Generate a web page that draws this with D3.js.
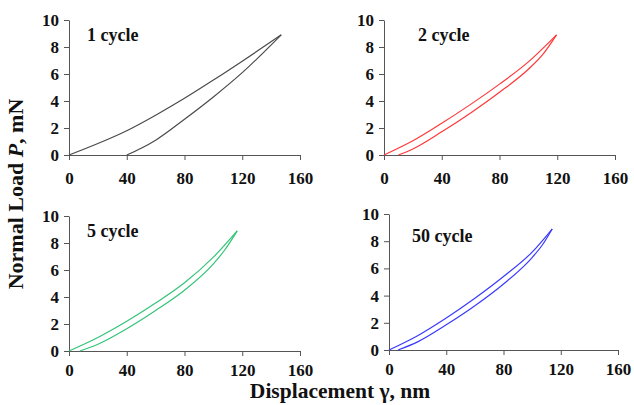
<!DOCTYPE html>
<html>
<head>
<meta charset="utf-8">
<script src="https://cdn.jsdelivr.net/npm/d3@7"></script>
<style>
  body { margin: 0; background: #fff; }
  svg { display: block; }
</style>
</head>
<body>
<div class="chart"></div>
<script>
const width = 634
const height = 405

// values: [displacement nm, load mN]
const cycleNames = ["1 cycle", "2 cycle", "5 cycle", "50 cycle"]
const cycleColors = ["#4a4a4a", "#ff3838", "#33c477", "#3a3aff"]

const load1 = [[0, 0], [20, 0.85], [40, 1.8], [60, 2.95], [80, 4.2], [100, 5.55], [120, 6.95], [147, 8.9]]
const unload1 = [[147, 8.9], [120, 6.1], [100, 4.3], [80, 2.65], [60, 1.1], [50, 0.5], [40, 0]]

const load2 = [[0, 0], [20, 1.05], [40, 2.35], [60, 3.75], [80, 5.25], [100, 6.9], [119.5, 8.9]]
const unload2 = [[119.5, 8.9], [110, 7.45], [100, 6.35], [80, 4.65], [60, 3.12], [40, 1.72], [20, 0.45], [10, 0]]

const load5 = [[0, 0], [20, 1.0], [40, 2.2], [60, 3.55], [80, 5.05], [100, 6.95], [116.5, 8.9]]
const unload5 = [[116.5, 8.9], [108, 7.5], [100, 6.45], [80, 4.5], [60, 3.0], [40, 1.65], [20, 0.5], [7.5, 0]]

const load50 = [[0, 0], [20, 1.05], [40, 2.35], [60, 3.8], [80, 5.4], [100, 7.2], [114, 8.9]]
const unload50 = [[114, 8.9], [107, 7.7], [100, 6.8], [80, 4.85], [60, 3.25], [40, 1.85], [20, 0.6], [6.3, 0]]

const loadData = [load1, load2, load5, load50]
const unloadData = [unload1, unload2, unload5, unload50]

const xTicks = [0, 40, 80, 120, 160]
const yTicks = [0, 2, 4, 6, 8, 10]

// panel frames in pixels
const panels = [
  {x0: 69, x1: 300, top: 20, bottom: 155, labX: 87, labY: 41, tickGap: 12},
  {x0: 384, x1: 615, top: 20, bottom: 155, labX: 418, labY: 41, tickGap: 12},
  {x0: 69, x1: 300, top: 216, bottom: 351, labX: 87, labY: 237, tickGap: 8},
  {x0: 389, x1: 618, top: 214, bottom: 350, labX: 412, labY: 242, tickGap: 8}
]

const svg = d3.create("svg")
  .attr("width", width)
  .attr("height", height)
  .attr("viewBox", [0, 0, width, height])

panels.forEach((p, i) => {
  const x = d3.scaleLinear().domain([0, 160]).range([p.x0, p.x1])
  const y = d3.scaleLinear().domain([0, 10]).range([p.bottom, p.top])

  const g = svg.append("g")

  const xAxis = g.append("g")
    .attr("transform", `translate(0,${p.bottom})`)
    .call(d3.axisBottom(x).tickValues(xTicks).tickSize(5).tickPadding(p.tickGap).tickSizeOuter(0))
  const yAxis = g.append("g")
    .attr("transform", `translate(${p.x0},0)`)
    .call(d3.axisLeft(y).tickValues(yTicks).tickSize(5).tickPadding(5).tickSizeOuter(0))

  for (const ax of [xAxis, yAxis]) {
    ax.selectAll("path, line").attr("stroke", "#555")
    ax.selectAll("text")
      .style("font", "bold 17px 'Liberation Serif', 'Times New Roman', serif")
      .attr("fill", "#111")
  }

  const line = d3.line()
    .x(d => x(d[0]))
    .y(d => y(d[1]))
    .curve(d3.curveMonotoneX)

  g.append("path")
    .attr("d", line(loadData[i]))
    .attr("fill", "none")
    .attr("stroke", cycleColors[i])
    .attr("stroke-width", 1.2)

  g.append("path")
    .attr("d", line(unloadData[i].slice().reverse()))
    .attr("fill", "none")
    .attr("stroke", cycleColors[i])
    .attr("stroke-width", 1.2)

  g.append("text")
    .attr("x", p.labX)
    .attr("y", p.labY)
    .style("font", "bold 18px 'Liberation Serif', 'Times New Roman', serif")
    .attr("fill", "#111")
    .text(cycleNames[i])
})

// axis titles
const yTitle = svg.append("text")
  .attr("transform", "translate(23,194) rotate(-90)")
  .attr("text-anchor", "middle")
  .style("font", "bold 22px 'Liberation Serif', 'Times New Roman', serif")
  .attr("fill", "#111")
yTitle.append("tspan").text("Normal Load ")
yTitle.append("tspan").style("font-style", "italic").text("P")
yTitle.append("tspan").text(", mN")

svg.append("text")
  .attr("x", 340)
  .attr("y", 398)
  .attr("text-anchor", "middle")
  .style("font", "bold 21.5px 'Liberation Serif', 'Times New Roman', serif")
  .attr("fill", "#111")
  .text("Displacement γ, nm")

document.querySelector(".chart").append(svg.node())
</script>
</body>
</html>
